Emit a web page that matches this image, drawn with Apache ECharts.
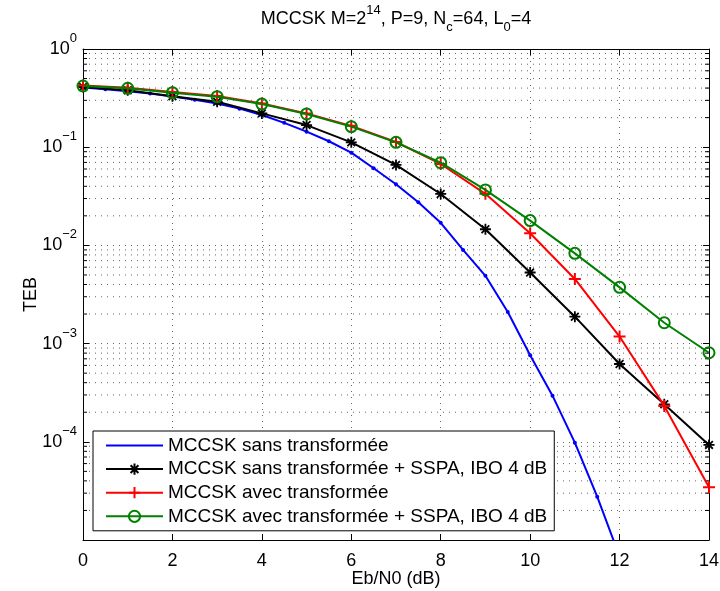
<!DOCTYPE html>
<html><head><meta charset="utf-8">
<script src="https://cdn.jsdelivr.net/npm/echarts@6/dist/echarts.min.js"></script>
<style>html,body{margin:0;padding:0;background:#fff}#c{width:720px;height:591px}</style>
</head><body><div id="c"></div>
<script>
// ---- data ----
const xInt = [0,1,2,3,4,5,6,7,8,9,10,11,12,13,14];
const xHalf = [0,0.5,1,1.5,2,2.5,3,3.5,4,4.5,5,5.5,6,6.5,7,7.5,8,8.5,9,9.5,10,10.5,11,11.5,12];
const sansTransf = [0.405,0.39,0.372,0.352,0.328,0.305,0.278,0.247,0.213,0.177,0.144,0.115,0.088,0.061,0.042,0.0275,0.017,0.009,0.0049,0.0021,7.6e-4,2.95e-4,9.8e-5,2.76e-5,6.8e-6];
const sansTransfSSPA = [0.41,0.38,0.33,0.29,0.221,0.168,0.112,0.066,0.0334,0.0146,0.0053,0.00188,6.2e-4,2.41e-4,9.3e-5];
const avecTransf = [0.425,0.403,0.364,0.332,0.279,0.221,0.165,0.113,0.0675,0.0335,0.0133,0.00455,0.00118,2.32e-4,3.44e-5];
const avecTransfSSPA = [0.42,0.398,0.359,0.327,0.275,0.218,0.162,0.112,0.0695,0.0367,0.0179,0.0083,0.00374,0.00163,8.07e-4];
const seriesNames = [
  'MCCSK sans transformée',
  'MCCSK sans transformée + SSPA, IBO 4 dB',
  'MCCSK avec transformée',
  'MCCSK avec transformée + SSPA, IBO 4 dB'
];
const xTickValues = [0,2,4,6,8,10,12,14];
const yDecadeExponents = [0,-1,-2,-3,-4]; // labelled decades (10^-5 at bottom edge unlabelled)
const minorMantissas = [2,3,4,5,6,7,8,9];
const minorDecades = [-5,-4,-3,-2,-1];

// ---- chart ----
const FF = "'Liberation Sans', Arial, Helvetica, sans-serif";
const minorVals = [];
minorDecades.forEach(e => minorMantissas.forEach(m => minorVals.push(m * Math.pow(10, e))));

const chart = echarts.init(document.getElementById('c'), null, {renderer: 'canvas'});
const gridColor = '#666';
const dotted = [1, 5];

const starPath = 'path://M5 0L5 10M0 5L10 5M1.5 1.5L8.5 8.5M8.5 1.5L1.5 8.5';
const plusPath = 'path://M5 0L5 10M0 5L10 5';

const supRich = {
  b: {fontSize: 18, lineHeight: 34, verticalAlign: 'middle', fontFamily: FF, color: '#000'},
  s: {fontSize: 13, lineHeight: 13, verticalAlign: 'top', fontFamily: FF, color: '#000'}
};

const option = {
  backgroundColor: '#fff',
  animation: false,
  grid: {left: 83, right: 11, top: 49, bottom: 51, containLabel: false, outerBoundsMode: 'none'},
  xAxis: [{
    type: 'value', min: 0, max: 14, interval: 2, position: 'bottom',
    axisLine: {show: true, onZero: false, lineStyle: {color: '#000', width: 1}},
    axisTick: {show: true, inside: true, length: 6, lineStyle: {color: '#000'}},
    axisLabel: {fontSize: 18, color: '#000', margin: 12, fontFamily: FF,
      formatter: v => (xTickValues.indexOf(v) >= 0 ? String(v) : '')},
    splitLine: {show: true, lineStyle: {color: gridColor, type: dotted, width: 1}},
    name: 'Eb/N0 (dB)', nameLocation: 'middle', nameGap: 30, nameMoveOverlap: false,
    nameTextStyle: {fontSize: 18, color: '#000', fontFamily: FF}
  }, {
    type: 'value', min: 0, max: 14, interval: 2, position: 'top',
    axisLine: {show: true, onZero: false, lineStyle: {color: '#000', width: 1}},
    axisTick: {show: true, inside: true, length: 6, lineStyle: {color: '#000'}},
    axisLabel: {show: false}, splitLine: {show: false},
    name: '{t|MCCSK M=2}{p|14}{t|, P=9, N}{q|c}{t|=64, L}{q|0}{t|=4}',
    nameLocation: 'middle', nameGap: 15, nameMoveOverlap: false,
    nameTextStyle: {
      fontFamily: FF, color: '#000',
      rich: {
        t: {fontSize: 18, lineHeight: 30, verticalAlign: 'middle', fontFamily: FF, color: '#000'},
        p: {fontSize: 13, lineHeight: 13, verticalAlign: 'top', fontFamily: FF, color: '#000'},
        q: {fontSize: 13, lineHeight: 13, verticalAlign: 'bottom', fontFamily: FF, color: '#000'}
      }
    }
  }],
  yAxis: [{
    type: 'log', logBase: 10, min: 1e-5, max: 1, position: 'left',
    axisLine: {show: true, onZero: false, lineStyle: {color: '#000', width: 1}},
    axisTick: {show: true, inside: true, length: 6, lineStyle: {color: '#000'}},
    axisLabel: {
      margin: 6, fontFamily: FF, color: '#000',
      formatter: function (v) {
        const e = Math.round(Math.log10(v));
        if (yDecadeExponents.indexOf(e) < 0) return '';
        return '{b|10}{s|' + (e < 0 ? '\u2212' + (-e) : String(e)) + '}';
      },
      rich: supRich
    },
    splitLine: {show: true, lineStyle: {color: gridColor, type: dotted, width: 1}},
    minorTick: {show: false}, minorSplitLine: {show: false},
    name: 'TEB', nameLocation: 'middle', nameGap: 43, nameMoveOverlap: false,
    nameTextStyle: {fontSize: 18, color: '#000', fontFamily: FF}
  }, {
    type: 'log', logBase: 10, min: 1e-5, max: 1, position: 'right',
    axisLine: {show: true, onZero: false, lineStyle: {color: '#000', width: 1}},
    axisTick: {show: true, inside: true, length: 6, lineStyle: {color: '#000'}},
    axisLabel: {show: false}, splitLine: {show: false}
  }],
  legend: {
    data: [
      {name: seriesNames[0], itemStyle: {color: 'rgba(0,0,0,0)', borderColor: 'rgba(0,0,0,0)'}},
      seriesNames[1], seriesNames[2], seriesNames[3]
    ],
    orient: 'vertical', left: 93, top: 431,
    padding: [5, 7, 5, 12], itemGap: 4.6, itemWidth: 57, itemHeight: 14,
    backgroundColor: '#fff', borderColor: '#000', borderWidth: 1, borderRadius: 0,
    textStyle: {fontSize: 19, color: '#000', fontFamily: FF},
    selectedMode: false, z: 20
  },
  series: [{
    type: 'custom', name: 'minorGrid', coordinateSystem: 'cartesian2d',
    xAxisIndex: 0, yAxisIndex: 0, silent: true, z: 1,
    encode: {x: 0, y: 1},
    data: minorVals.map(v => [0, v]),
    renderItem: function (params, api) {
      const v = api.value(1);
      const p0 = api.coord([0, v]);
      const p1 = api.coord([14, v]);
      return {
        type: 'group',
        children: [
          {type: 'line', shape: {x1: p0[0], y1: p0[1], x2: p1[0], y2: p1[1]},
            style: {stroke: gridColor, lineWidth: 1, lineDash: dotted}},
          {type: 'line', shape: {x1: p0[0], y1: p0[1], x2: p0[0] + 4, y2: p0[1]},
            style: {stroke: '#000', lineWidth: 1}},
          {type: 'line', shape: {x1: p1[0] - 4, y1: p1[1], x2: p1[0], y2: p1[1]},
            style: {stroke: '#000', lineWidth: 1}}
        ]
      };
    }
  }, {
    name: seriesNames[0], type: 'line', z: 3, clip: true,
    data: xHalf.map((x, i) => [x, sansTransf[i]]),
    symbol: 'circle', symbolSize: 4,
    lineStyle: {color: '#0000ff', width: 2},
    itemStyle: {color: '#0000ff'}
  }, {
    name: seriesNames[1], type: 'line', z: 4, clip: true,
    data: xInt.map((x, i) => [x, sansTransfSSPA[i]]),
    symbol: starPath, symbolSize: 11,
    lineStyle: {color: '#000', width: 2},
    itemStyle: {color: '#000', borderColor: '#000', borderWidth: 1.8}
  }, {
    name: seriesNames[2], type: 'line', z: 5, clip: true,
    data: xInt.map((x, i) => [x, avecTransf[i]]),
    symbol: plusPath, symbolSize: 12,
    lineStyle: {color: '#ff0000', width: 2},
    itemStyle: {color: '#ff0000', borderColor: '#ff0000', borderWidth: 2}
  }, {
    name: seriesNames[3], type: 'line', z: 6, clip: true,
    data: xInt.map((x, i) => [x, avecTransfSSPA[i]]),
    symbol: 'circle', symbolSize: 11,
    lineStyle: {color: '#008000', width: 2},
    itemStyle: {color: 'rgba(0,0,0,0)', borderColor: '#008000', borderWidth: 2}
  }]
};
chart.setOption(option);
</script>
</body></html>
